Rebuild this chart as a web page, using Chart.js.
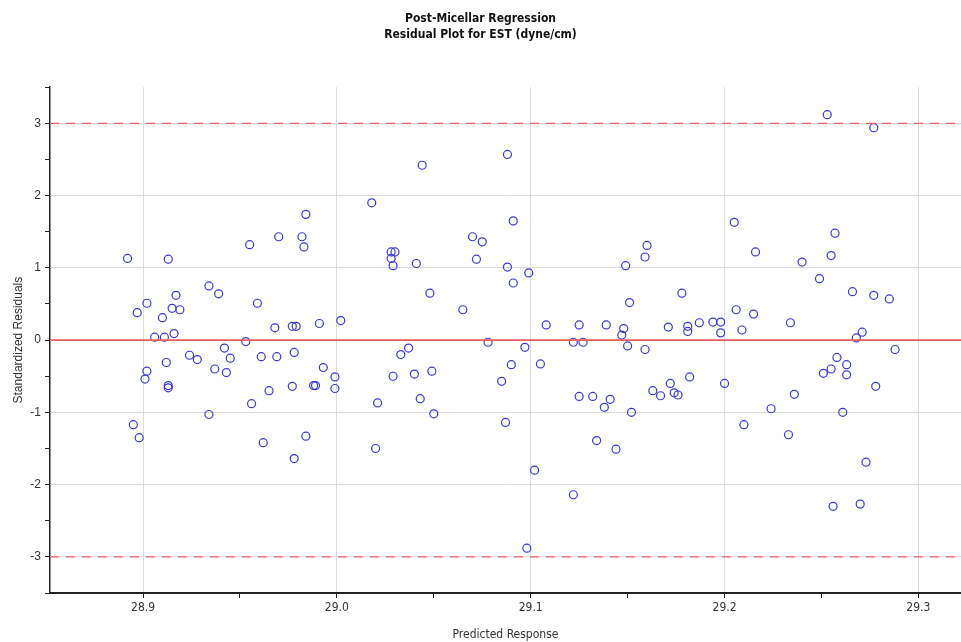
<!DOCTYPE html>
<html>
<head>
  <title>Residual Plot</title>
  <script src="https://cdn.jsdelivr.net/npm/chart.js"></script>
  <style>
    body { margin: 0; background: #fff; }
    #wrap { width: 961px; height: 642px; }
  </style>
</head>
<body>
  <div id="wrap"><canvas id="resid" width="961" height="642"></canvas></div>

  <script>
    // --- Data ---
    const predicted = [
      28.892, 28.913, 28.955, 28.970, 28.982, 28.934, 28.939, 28.902, 28.897, 28.917,
      28.915, 28.919, 28.910, 28.959, 28.906, 28.911, 28.916, 28.953, 28.968, 28.977,
      28.979, 28.924, 28.928, 28.942, 28.945, 28.961, 28.969, 28.978, 28.912, 28.902,
      28.901, 28.937, 28.943, 28.913, 28.913, 28.965, 28.956, 28.977, 28.934, 28.895,
      28.898, 28.962, 28.978, 28.984, 28.983, 28.991, 29.002, 28.993, 28.999, 28.988,
      28.989, 28.999, 28.984, 29.018, 29.044, 29.088, 29.091, 29.028, 29.030, 29.028,
      29.029, 29.041, 29.048, 29.070, 29.075, 29.072, 29.088, 29.099, 29.091, 29.065,
      29.078, 29.097, 29.037, 29.033, 29.029, 29.040, 29.049, 29.090, 29.085, 29.021,
      29.043, 29.050, 29.087, 29.020, 29.105, 29.108, 29.125, 29.122, 29.127, 29.139,
      29.148, 29.147, 29.150, 29.159, 29.149, 29.151, 29.159, 29.160, 29.171, 29.125,
      29.132, 29.141, 29.138, 29.152, 29.163, 29.167, 29.172, 29.134, 29.144, 29.102,
      29.122, 29.098, 29.178, 29.205, 29.216, 29.240, 29.249, 29.181, 29.181, 29.187,
      29.194, 29.198, 29.198, 29.206, 29.215, 29.209, 29.234, 29.182, 29.200, 29.174,
      29.176, 29.236, 29.224, 29.210, 29.233, 29.253, 29.277, 29.257, 29.255, 29.266,
      29.277, 29.285, 29.271, 29.268, 29.288, 29.258, 29.263, 29.255, 29.251, 29.263,
      29.278, 29.261, 29.273, 29.256, 29.270
    ];
    const residuals = [
      1.13, 1.12, 1.32, 1.43, 1.43, 0.75, 0.64, 0.51, 0.38, 0.62,
      0.44, 0.42, 0.31, 0.51, 0.04, 0.04, 0.09, -0.02, 0.17, 0.19,
      0.19, -0.21, -0.27, -0.11, -0.25, -0.23, -0.23, -0.17, -0.31, -0.43,
      -0.54, -0.40, -0.45, -0.63, -0.66, -0.70, -0.88, -0.64, -1.03, -1.17,
      -1.35, -1.42, -1.64, 1.74, 1.29, 0.23, 0.27, -0.38, -0.51, -0.63,
      -0.63, -0.67, -1.33, 1.90, 2.42, 2.57, 1.65, 1.22, 1.22, 1.13,
      1.03, 1.06, 0.65, 1.43, 1.36, 1.12, 1.01, 0.93, 0.79, 0.42,
      -0.03, -0.10, -0.11, -0.20, -0.50, -0.47, -0.43, -0.34, -0.57, -0.87,
      -0.81, -1.02, -1.14, -1.50, -0.33, 0.21, 0.21, -0.03, -0.03, 0.21,
      0.16, 0.07, -0.08, -0.13, 1.03, 0.52, 1.15, 1.31, 0.18, -0.78,
      -0.78, -0.82, -0.93, -1.00, -0.70, -0.77, -0.60, -1.39, -1.51, -1.80,
      -2.14, -2.88, 0.65, 1.63, 1.22, 1.08, 0.85, 0.19, 0.12, 0.24,
      0.25, 0.25, 0.10, 0.42, 0.36, 0.14, 0.24, -0.51, -0.60, -0.73,
      -0.76, -0.75, -0.95, -1.17, -1.31, 3.12, 2.94, 1.48, 1.17, 0.67,
      0.62, 0.57, 0.11, 0.03, -0.13, -0.24, -0.34, -0.40, -0.46, -0.48,
      -0.64, -1.00, -1.69, -2.30, -2.27
    ];

    const xMajor = [28.9, 29.0, 29.1, 29.2, 29.3];
    const xMinor = [28.95, 29.05, 29.15, 29.25];
    const yMajor = [-3, -2, -1, 0, 1, 2, 3];
    const yMinor = [-3.5, -2.5, -1.5, -0.5, 0.5, 1.5, 2.5, 3.5];
    const xRange = [28.852, 29.322];
    const yRange = [-3.5, 3.5];
    const limits = [-3, 3];

    const points = predicted.map((x, i) => ({ x: x, y: residuals[i] }));
    const hline = v => [{ x: xRange[0], y: v }, { x: xRange[1], y: v }];

    const isMajor = (v, list) => list.some(m => Math.abs(m - v) < 1e-6);
    const setTicks = (major, minor) => scale => {
      scale.ticks = major.concat(minor).sort((a, b) => a - b).map(v => ({ value: v }));
    };

    const narrow = "'Liberation Sans Narrow', 'DejaVu Sans Condensed', 'Liberation Sans', sans-serif";
    const plain = "'Liberation Sans', Arial, sans-serif";

    new Chart(document.getElementById('resid'), {
      type: 'scatter',
      data: {
        datasets: [
          {
            label: 'Zero',
            data: hline(0),
            showLine: true,
            borderColor: '#e8605c',
            borderWidth: 1.6,
            pointRadius: 0
          },
          {
            label: 'Upper',
            data: hline(limits[1]),
            showLine: true,
            borderColor: '#e8605c',
            borderWidth: 1.3,
            borderDash: [9, 7],
            pointRadius: 0
          },
          {
            label: 'Lower',
            data: hline(limits[0]),
            showLine: true,
            borderColor: '#e8605c',
            borderWidth: 1.3,
            borderDash: [9, 7],
            pointRadius: 0
          },
          {
            label: 'Residuals',
            data: points,
            pointStyle: 'circle',
            pointRadius: 4,
            borderWidth: 1.2,
            borderColor: '#3838d4',
            backgroundColor: 'rgba(0,0,0,0)'
          }
        ]
      },
      options: {
        responsive: false,
        animation: false,
        layout: { autoPadding: false, padding: 0 },
        plugins: {
          legend: { display: false },
          tooltip: { enabled: false },
          title: {
            display: true,
            text: ['Post-Micellar Regression', 'Residual Plot for EST (dyne/cm)'],
            color: '#111',
            font: { family: narrow, size: 12, weight: 'bold', lineHeight: 1.3 },
            padding: { top: 11, bottom: 45 }
          }
        },
        scales: {
          x: {
            type: 'linear',
            min: xRange[0],
            max: xRange[1],
            afterBuildTicks: setTicks(xMajor, xMinor),
            afterFit: s => { s.height = 49; },
            border: { color: '#222', width: 2 },
            grid: {
              color: c => isMajor(c.tick.value, xMajor) ? '#dcdcdc' : 'rgba(0,0,0,0)',
              tickColor: '#222',
              tickLength: 5
            },
            ticks: {
              color: '#333',
              padding: 3,
              font: { family: narrow, size: 12 },
              callback: v => isMajor(v, xMajor) ? v.toFixed(1) : ''
            },
            title: {
              display: true,
              text: 'Predicted Response',
              color: '#333',
              font: { family: narrow, size: 12 },
              padding: { top: 2, bottom: 0 }
            }
          },
          y: {
            type: 'linear',
            min: yRange[0],
            max: yRange[1],
            afterBuildTicks: setTicks(yMajor, yMinor),
            afterFit: s => { s.width = 50; },
            border: { color: '#222', width: 1.5 },
            grid: {
              color: c => isMajor(c.tick.value, yMajor) ? '#dcdcdc' : 'rgba(0,0,0,0)',
              tickColor: '#222',
              tickLength: 5
            },
            ticks: {
              color: '#333',
              padding: 4,
              font: { family: plain, size: 12 },
              callback: v => isMajor(v, yMajor) ? String(v) : ''
            },
            title: {
              display: true,
              text: 'Standardized Residuals',
              color: '#333',
              font: { family: plain, size: 12 },
              padding: { top: 11, bottom: 2 }
            }
          }
        }
      }
    });
  </script>
</body>
</html>
